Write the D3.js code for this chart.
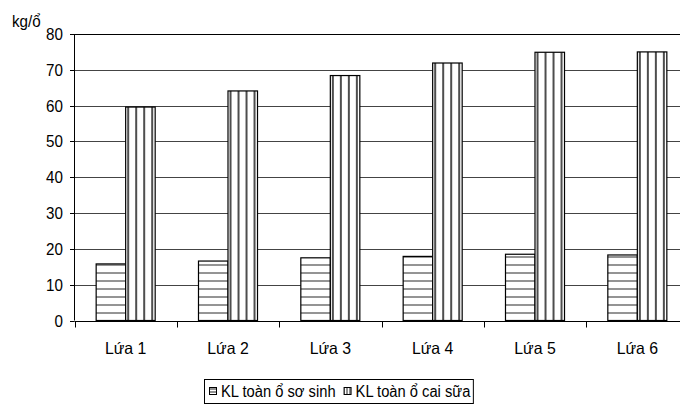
<!DOCTYPE html>
<html><head><meta charset="utf-8">
<script src="https://cdn.jsdelivr.net/npm/d3@7"></script>
<style>html,body{margin:0;padding:0;background:#fff;}svg{display:block;}text{font-family:Arial,"Liberation Sans",sans-serif;fill:#000;}</style>
</head><body>
<script>
const categories = ["Lứa 1","Lứa 2","Lứa 3","Lứa 4","Lứa 5","Lứa 6"];
const seriesNames = ["KL toàn ổ sơ sinh","KL toàn ổ cai sữa"];
const soSinh = [15.8, 16.6, 17.5, 17.9, 18.5, 18.3];
const caiSua = [59.6, 64.1, 68.4, 71.9, 74.9, 75.0];
const yTicks = [0,10,20,30,40,50,60,70,80];
const yLabel = "kg/ổ";

const W = 680, H = 405;
const svg = d3.select("body").append("svg").attr("width", W).attr("height", H);
const defs = svg.append("defs");

const y = d3.scaleLinear().domain([0,80]).range([320.5, 34]);
const x = d3.scaleBand().domain(categories).range([74.5, 688.5]).paddingInner(0).paddingOuter(0);
const xs = d3.scaleBand().domain(seriesNames).range([0, x.bandwidth()]).paddingInner(0).paddingOuter(0.734);

// patterns
const ph = defs.append("pattern").attr("id","hatchH").attr("patternUnits","userSpaceOnUse")
  .attr("width",8).attr("height",8).attr("y", (y(0)) % 8);
ph.append("rect").attr("width",8).attr("height",8).attr("fill","#fff");
ph.append("line").attr("x1",0).attr("x2",8).attr("y1",0).attr("y2",0).attr("stroke","#111").attr("stroke-width",1.8);
const pv = defs.append("pattern").attr("id","hatchV").attr("patternUnits","userSpaceOnUse")
  .attr("width",8).attr("height",8).attr("x",1.7);
pv.append("rect").attr("width",8).attr("height",8).attr("fill","#fff");
pv.append("line").attr("x1",4).attr("x2",4).attr("y1",0).attr("y2",8).attr("stroke","#222").attr("stroke-width",1.6);
const pvL = defs.append("pattern").attr("id","hatchVL").attr("patternUnits","userSpaceOnUse")
  .attr("width",3).attr("height",3).attr("x",0.5);
pvL.append("rect").attr("width",3).attr("height",3).attr("fill","#fff");
pvL.append("line").attr("x1",1.5).attr("x2",1.5).attr("y1",0).attr("y2",3).attr("stroke","#222").attr("stroke-width",1);
const phL = defs.append("pattern").attr("id","hatchHL").attr("patternUnits","userSpaceOnUse")
  .attr("width",3).attr("height",3).attr("y",0.5);
phL.append("rect").attr("width",3).attr("height",3).attr("fill","#fff");
phL.append("line").attr("x1",0).attr("x2",3).attr("y1",1.5).attr("y2",1.5).attr("stroke","#222").attr("stroke-width",1);

// gridlines
svg.append("g").selectAll("line").data(yTicks.filter(d=>d>0)).join("line")
  .attr("x1",70).attr("x2",W).attr("y1",d=>Math.round(y(d))+0.5).attr("y2",d=>Math.round(y(d))+0.5)
  .attr("stroke",d=>d===80?"#000":"#444").attr("stroke-width",1);

// bars
const data = categories.map((c,i)=>({c, vals:[{s:seriesNames[0],v:soSinh[i]},{s:seriesNames[1],v:caiSua[i]}]}));
const g = svg.append("g").selectAll("g").data(data).join("g").attr("transform",d=>`translate(${x(d.c)},0)`);
g.selectAll("rect").data(d=>d.vals).join("rect")
  .attr("x",d=>xs(d.s)).attr("width",xs.bandwidth())
  .attr("y",d=>y(d.v)).attr("height",d=>y(0)-y(d.v))
  .attr("fill",(d,i)=>i===0?"url(#hatchH)":"url(#hatchV)")
  .attr("stroke","#000").attr("stroke-width",1.2);

// y axis
svg.append("line").attr("x1",74.5).attr("x2",74.5).attr("y1",34).attr("y2",y(0)).attr("stroke","#000");
svg.append("g").selectAll("line").data(yTicks).join("line")
  .attr("x1",70).attr("x2",74.5).attr("y1",d=>Math.round(y(d))+0.5).attr("y2",d=>Math.round(y(d))+0.5).attr("stroke","#000");
svg.append("g").selectAll("text").data(yTicks).join("text")
  .attr("transform",d=>`translate(63,${y(d)+6}) scale(0.92,1)`)
  .attr("text-anchor","end").attr("font-size",16.5).text(d=>d);
svg.append("text").attr("transform","translate(12,27) scale(0.92,1)").attr("font-size",16.5).text(yLabel);

// x axis
svg.append("line").attr("x1",74.5).attr("x2",W).attr("y1",Math.round(y(0))+0.5).attr("y2",Math.round(y(0))+0.5).attr("stroke","#000");
const xTickPos = categories.map(c=>x(c)).concat([x.range()[1]]);
svg.append("g").selectAll("line").data(xTickPos).join("line")
  .attr("x1",d=>Math.round(d)+0.5).attr("x2",d=>Math.round(d)+0.5)
  .attr("y1",Math.round(y(0))+0.5).attr("y2",Math.round(y(0))+6.5).attr("stroke","#000");
svg.append("g").selectAll("text").data(categories).join("text")
  .attr("transform",d=>`translate(${x(d)+x.bandwidth()/2},354) scale(0.96,1)`)
  .attr("text-anchor","middle").attr("font-size",16.5).text(d=>d);

// legend
const lg = svg.append("g");
const box = lg.append("rect").attr("x",204.5).attr("y",379.5).attr("height",24).attr("fill","#fff").attr("stroke","#000");
const sc = 0.92;
let cx = 209;
const fills = ["url(#hatchHL)","url(#hatchVL)"];
seriesNames.forEach((s,i)=>{
  lg.append("rect").attr("x",cx+0.5).attr("y",387.5).attr("width",7).attr("height",7).attr("fill",fills[i]).attr("stroke","#000");
  const t = lg.append("text").attr("transform",`translate(${cx+12},397) scale(${sc},1)`).attr("font-size",16).text(s);
  const w = t.node().getComputedTextLength()*sc;
  cx = cx + 12 + w + 8;
});
box.attr("width", cx - 8 + 3 - 204.5);
</script>
</body></html>
